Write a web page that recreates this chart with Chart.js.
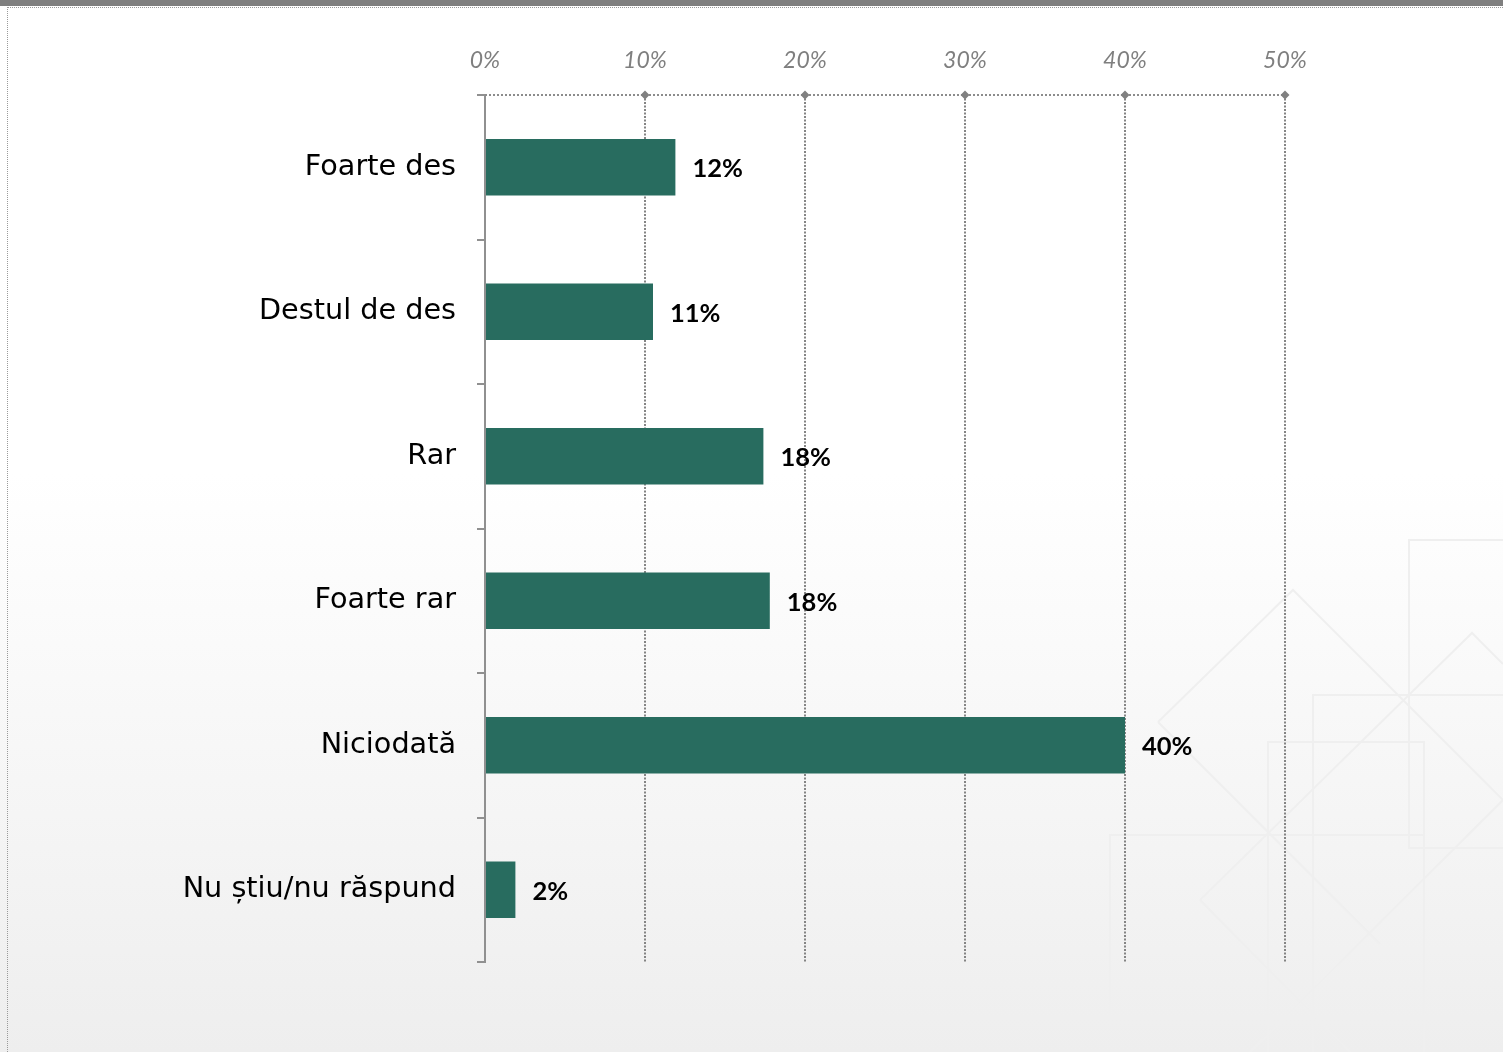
<!DOCTYPE html>
<html>
<head>
<meta charset="utf-8">
<title>Frecvență</title>
<script src="https://cdn.jsdelivr.net/npm/chart.js@4.4.1/dist/chart.umd.min.js"></script>
<style>
    html, body { margin: 0; padding: 0; }
    body {
        width: 1503px; height: 1052px; position: relative; overflow: hidden;
        background: linear-gradient(to bottom, #ffffff 0%, #ffffff 45%, #eeeeee 100%);
    }
    .top-bar { position: absolute; left: 0; top: 0; width: 100%; height: 6px; background: #7f7f7f; }
    .frame {
        position: absolute; left: 7px; top: 7px; right: -10px; bottom: -10px;
        border-top: 1px dotted #9a9a9a; border-left: 1px dotted #9a9a9a;
    }
    .deco { position: absolute; left: 0; top: 0; }
    #priceChart { position: absolute; left: 0; top: 0; }
</style>
</head>
<body>
<div class="top-bar"></div>
<div class="frame"></div>
<svg class="deco" width="1503" height="1052">
    <g fill="none" stroke="#efefef" stroke-width="2">
        <rect x="1409" y="540" width="120" height="308"/>
        <rect x="1313" y="695" width="220" height="380"/>
        <rect x="1268" y="742" width="156" height="340"/>
        <rect x="1110" y="835" width="314" height="188"/>
        <path d="M1158 722 L1293 590 L1503 800"/>
        <path d="M1158 722 L1380 944"/>
        <path d="M1200 900 L1472 633 L1503 664"/>
        <path d="M1250 1052 L1503 800"/>
        <path d="M1200 900 L1350 1052"/>
    </g>
</svg>
<canvas id="priceChart" width="1503" height="1052"></canvas>
<script>
// --- Data ---
const categories = ['Foarte des', 'Destul de des', 'Rar', 'Foarte rar', 'Niciodată', 'Nu știu/nu răspund'];
const shares = [11.9, 10.5, 17.4, 17.8, 40.0, 1.9];
const shareLabels = ['12%', '11%', '18%', '18%', '40%', '2%'];
const xTicks = [0, 10, 20, 30, 40, 50];

const gridGray = '#848484';

// dotted top axis line + diamond markers on it
const axisMarkers = {
    id: 'axisMarkers',
    afterDraw(chart) {
        const { ctx, chartArea, scales } = chart;
        const x = scales.x;
        ctx.save();
        ctx.strokeStyle = '#8c8c8c';
        ctx.lineWidth = 2;
        ctx.setLineDash([2, 2]);
        ctx.beginPath();
        ctx.moveTo(chartArea.left, chartArea.top);
        ctx.lineTo(chartArea.right, chartArea.top);
        ctx.stroke();
        ctx.setLineDash([]);
        ctx.fillStyle = '#808080';
        xTicks.forEach(v => {
            if (v === 0) return;
            const px = x.getPixelForValue(v);
            const r = 4.5;
            ctx.beginPath();
            ctx.moveTo(px, chartArea.top - r);
            ctx.lineTo(px + r, chartArea.top);
            ctx.lineTo(px, chartArea.top + r);
            ctx.lineTo(px - r, chartArea.top);
            ctx.closePath();
            ctx.fill();
        });
        ctx.restore();
    }
};

// bold value labels right of each bar
const valueLabels = {
    id: 'valueLabels',
    afterDatasetsDraw(chart) {
        const { ctx } = chart;
        const meta = chart.getDatasetMeta(0);
        ctx.save();
        ctx.fillStyle = '#000';
        ctx.font = 'bold 25.5px Lato';
        ctx.textAlign = 'left';
        ctx.textBaseline = 'middle';
        meta.data.forEach((bar, i) => {
            ctx.fillText(shareLabels[i], bar.x + 17, bar.y + 2);
        });
        ctx.restore();
    }
};

const ctx = document.getElementById('priceChart').getContext('2d');
new Chart(ctx, {
    type: 'bar',
    data: {
        labels: categories,
        datasets: [{
            data: shares,
            backgroundColor: '#286c5f',
            categoryPercentage: 1,
            barPercentage: 0.39
        }]
    },
    options: {
        indexAxis: 'y',
        responsive: false,
        animation: false,
        layout: { padding: { top: 20, right: 218, bottom: 90, left: 0 } },
        plugins: { legend: { display: false }, tooltip: { enabled: false } },
        scales: {
            x: {
                position: 'top',
                min: 0,
                max: 50,
                afterBuildTicks: (scale) => { scale.ticks = xTicks.map(v => ({ value: v })); },
                afterFit: (scale) => { scale.height = 75; },
                ticks: {
                    callback: (v) => v + '%',
                    color: '#7f7f7f',
                    font: { family: 'Lato', style: 'italic', size: 23 },
                    padding: 21
                },
                grid: { color: gridGray, lineWidth: 2, drawTicks: false },
                border: { display: false, dash: [2, 1.5] }
            },
            y: {
                afterFit: (scale) => { scale.width = 485; },
                ticks: {
                    color: '#000',
                    font: { family: 'DejaVu Sans', size: 28.7 },
                    padding: 21
                },
                grid: { drawOnChartArea: false, drawTicks: true, tickLength: 8, color: '#909090', lineWidth: 2, offset: true },
                border: { color: '#909090', width: 2 }
            }
        }
    },
    plugins: [axisMarkers, valueLabels]
});
</script>
</body>
</html>
